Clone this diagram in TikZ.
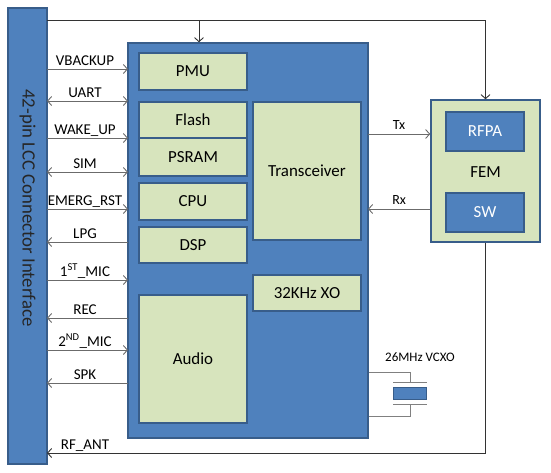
\documentclass[tikz,border=0pt]{standalone}
\usepackage{fontspec}
\setmainfont{Carlito}
\usetikzlibrary{arrows.meta}
\definecolor{boxblue}{HTML}{4F81BD}
\definecolor{edgeblue}{HTML}{385D8A}
\definecolor{boxgreen}{HTML}{D7E4BD}
\definecolor{wire}{HTML}{6B6B6B}
\tikzset{
	blk/.style={draw=edgeblue,line width=1.6pt,fill=boxgreen,inner sep=0pt,font=\fontsize{16.9}{18}\selectfont},
	bluebox/.style={blk,fill=boxblue,text=white},
	sig/.style={anchor=base,inner sep=0pt,font=\fontsize{15}{17}\selectfont},
	wireline/.style={draw=wire,line width=0.9pt}
}
% box from (x1,y1) to (x2,y2)
\newcommand{\chip}[7]{\node[#7,minimum width={(#5-#3)*1pt},minimum height={(#6-#4)*1pt}](#1) at ({(#3+#5)/2},{(#4+#6)/2}) {#2};}
% pin line between connector and module
\newcommand{\pin}[4]{\coordinate(#1a) at (47,#3);\coordinate(#1b) at (128,#3);\draw[wireline,#4] (#1a) -- (#1b);\node[sig](lab#1) at (85,#3-4) {#2};}

\begin{document}
\begin{tikzpicture}[x=1pt,y=-1pt,>={Straight Barb[length=4pt,width=9pt]}]
	\useasboundingbox (0,0) rectangle (551,472);
	\chip{bar}{}{8}{8}{47}{464}{bluebox}
	\node[rotate=-90,text=black!85,font=\fontsize{18.8}{20}\selectfont](barlab) at (27.5,208) {42-pin LCC Connector Interface};
	\chip{main}{}{128}{43}{368}{438}{bluebox}

	\chip{pmu}{PMU}{139}{53}{247}{90}{blk}
	\chip{flash}{Flash}{139}{102}{247}{138}{blk}
	\chip{psram}{PSRAM}{139}{138}{247}{176}{blk}
	\chip{cpu}{CPU}{139}{183}{247}{220}{blk}
	\chip{dsp}{DSP}{139}{227}{247}{263}{blk}
	\chip{audio}{Audio}{139}{295}{247}{423}{blk}
	\chip{trx}{Transceiver}{253}{102}{361}{240}{blk}
	\chip{xo}{32KHz XO}{253}{275}{361}{311}{blk}

	\chip{fem}{}{431}{100}{540}{242}{blk}
	\node[font=\fontsize{16.9}{18}\selectfont](femlab) at (485.5,172) {FEM};
	\chip{rfpa}{RFPA}{446}{112}{524}{151}{bluebox}
	\chip{sw}{SW}{446}{193}{524}{232}{bluebox}

	\pin{vbak}{VBACKUP}{69}{->}
	\pin{uart}{UART}{101}{<->}
	\pin{wake}{WAKE\_UP}{138}{->}
	\pin{sim}{SIM}{172}{<->}
	\pin{rst}{EMERG\_RST}{209}{->}
	\pin{lpg}{LPG}{242}{<-}
	\pin{micA}{1\textsuperscript{ST}\_MIC}{280}{->}
	\pin{rec}{REC}{318}{<-}
	\pin{micB}{2\textsuperscript{ND}\_MIC}{350}{->}
	\pin{spk}{SPK}{383}{<-}

	% supply line over the top
	\coordinate (topL) at (47,20);
	\coordinate (tap) at (199,20);
	\draw[wireline,draw=black!80,->] (topL) -| (fem.north);
	\draw[wireline,draw=black!80,->] (tap) -- (tap |- main.north);

	% RF path
	\coordinate (txa) at (368,134);
	\coordinate (rxa) at (368,209);
	\draw[wireline,->] (txa) -- (fem.west |- txa) node[midway,above=1pt,font=\fontsize{14}{16}\selectfont] {Tx};
	\draw[wireline,<-] (rxa) -- (fem.west |- rxa) node[midway,above=1pt,font=\fontsize{14}{16}\selectfont] {Rx};
	\coordinate (ant) at (47,453);
	\draw[wireline,draw=black!80,->] (fem.south) |- (ant);
	\node[sig](labant) at (85,449) {RF\_ANT};

	% crystal
	\node[draw=edgeblue,fill=boxblue,line width=1pt,minimum width=33pt,minimum height=12pt,inner sep=0pt](xtal) at (410,393) {};
	\coordinate (xtop) at (410,382);
	\coordinate (xbot) at (410,404);
	\draw[wireline,draw=gray] (393,382) -- (427,382);
	\draw[wireline,draw=gray] (393,404) -- (427,404);
	\draw[wireline,draw=gray] (main.east |- 0,372) -| (xtop);
	\draw[wireline,draw=gray] (main.east |- 0,416) -| (xbot);
	\node[font=\fontsize{13}{15}\selectfont](vcxo) at (420,357) {26MHz VCXO};
\end{tikzpicture}
\end{document}
